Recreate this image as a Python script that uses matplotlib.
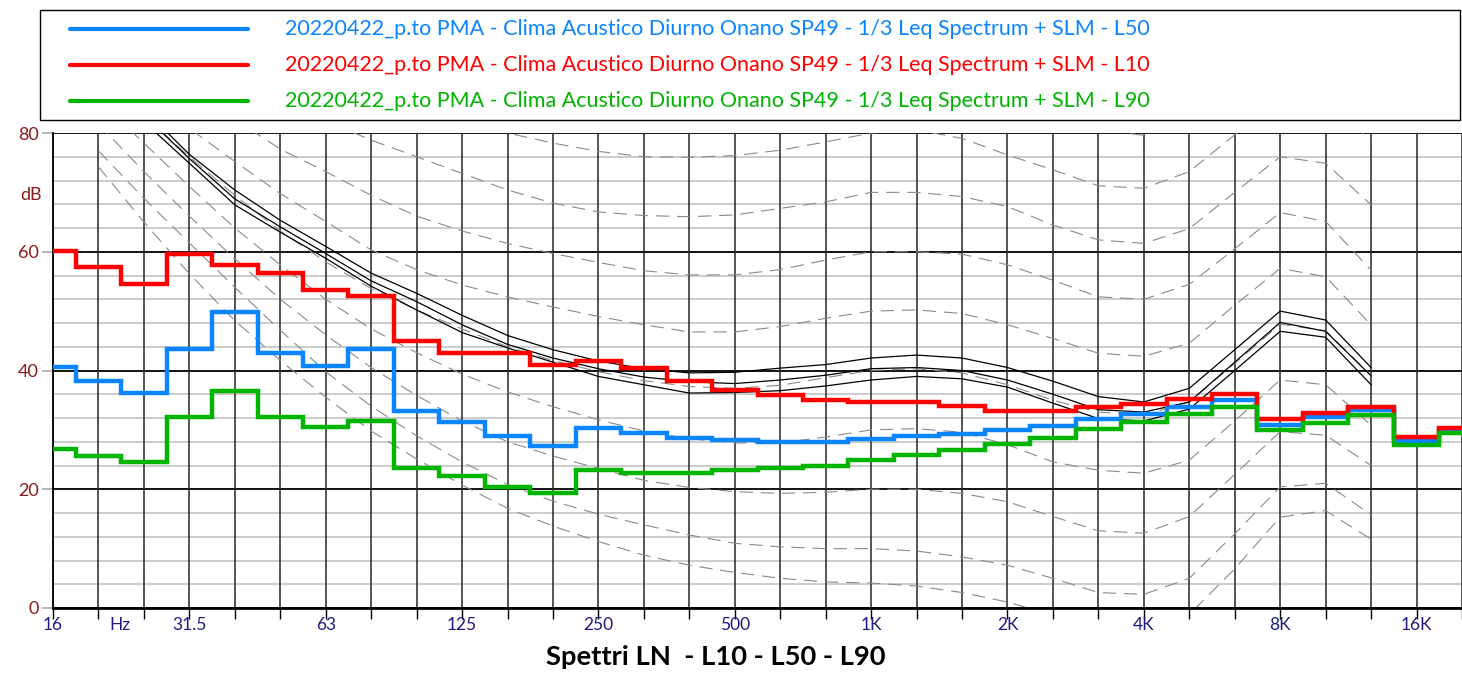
import numpy as np
import matplotlib
matplotlib.use("Agg")
import matplotlib.pyplot as plt
from matplotlib.lines import Line2D
from matplotlib.patches import Rectangle

plt.rcParams['font.family'] = ['Lato', 'DejaVu Sans']

# third octave bands on the x axis (16 Hz .. 20 kHz)
bands = ["16", "20", "25", "31.5", "40", "50", "63", "80", "100", "125", "160", "200",
         "250", "315", "400", "500", "630", "800", "1000", "1250", "1600", "2000",
         "2500", "3150", "4000", "5000", "6300", "8000", "10000", "12500", "16000", "20000"]

# measured spectra (dB), one value per band
L50 = [40.6, 38.3, 36.2, 43.6, 49.8, 42.9, 40.8, 43.7, 33.2, 31.4, 29.0, 27.3, 30.4, 29.4, 28.7, 28.3,
       28.0, 28.0, 28.4, 29.0, 29.3, 30.0, 30.7, 31.8, 32.7, 33.9, 35.0, 30.9, 32.1, 33.3, 28.2, 30.0]
L10 = [60.1, 57.5, 54.6, 59.7, 57.8, 56.4, 53.6, 52.6, 45.0, 43.0, 42.9, 40.9, 41.6, 40.4, 38.2, 36.8,
       35.8, 35.1, 34.7, 34.7, 34.0, 33.2, 33.2, 33.9, 34.4, 35.2, 36.1, 31.9, 32.8, 33.9, 28.8, 30.4]
L90 = [26.8, 25.6, 24.6, 32.2, 36.6, 32.2, 30.5, 31.5, 23.6, 22.2, 20.3, 19.3, 23.2, 22.8, 22.8, 23.2,
       23.5, 23.9, 24.9, 25.8, 26.6, 27.7, 28.7, 30.1, 31.3, 32.6, 33.9, 29.9, 31.2, 32.5, 27.5, 29.4]

series_labels = ["20220422_p.to PMA - Clima Acustico Diurno Onano SP49 - 1/3 Leq Spectrum + SLM - L50",
                 "20220422_p.to PMA - Clima Acustico Diurno Onano SP49 - 1/3 Leq Spectrum + SLM - L10",
                 "20220422_p.to PMA - Clima Acustico Diurno Onano SP49 - 1/3 Leq Spectrum + SLM - L90"]
series_colors = ["#0a84ff", "#ff0000", "#00b400"]

# equal loudness contours (dashed, grey), 20 Hz .. 12.5 kHz
contour_bands = bands[1:30]
phon_T = [74.3, 65.0, 56.3, 48.4, 41.7, 35.5, 29.8, 25.1, 20.7, 16.8, 13.8, 11.2, 8.9, 7.2, 6.0,
          5.0, 4.4, 4.2, 3.7, 2.6, 1.0, -1.2, -3.6, -3.9, -1.1, 6.6, 15.3, 16.4, 11.6]
phon_10 = [77.0, 69.0, 61.5, 54.0, 46.8, 39.8, 34.0, 29.0, 24.6, 20.8, 18.0, 15.8, 14.0, 12.3, 10.9,
           10.3, 10.0, 10.0, 9.6, 8.6, 7.2, 5.0, 2.6, 2.3, 5.0, 12.5, 20.4, 21.0, 15.7]
phon_20 = [81.5, 73.5, 66.0, 58.8, 52.0, 46.0, 40.5, 35.8, 31.5, 28.0, 25.6, 23.5, 21.5, 20.3, 19.6,
           19.3, 19.5, 20.0, 20.0, 19.3, 17.9, 15.4, 13.0, 12.6, 15.4, 22.5, 29.7, 29.1, 24.0]
phon_30 = [85.5, 78.3, 71.0, 64.0, 57.8, 52.0, 47.0, 43.0, 39.4, 36.4, 33.9, 31.7, 29.8, 28.5, 27.8,
           27.8, 28.8, 30.0, 30.2, 29.6, 27.5, 24.6, 23.2, 22.7, 24.9, 31.5, 38.4, 37.6, 30.8]
phon_40 = [90.0, 83.0, 76.0, 69.5, 63.5, 58.3, 53.8, 50.2, 47.0, 44.0, 41.7, 39.8, 38.3, 37.3, 37.0,
           37.5, 38.8, 40.0, 40.3, 39.6, 37.6, 35.0, 33.0, 32.5, 34.7, 41.2, 47.8, 46.7, 39.2]
phon_50 = [95.0, 88.0, 80.8, 75.2, 69.8, 65.1, 60.3, 57.0, 54.4, 52.4, 50.7, 49.1, 47.7, 46.5, 46.5,
           47.4, 48.8, 50.0, 50.2, 49.6, 47.7, 45.4, 42.9, 42.4, 44.6, 51.0, 57.2, 55.8, 47.7]
phon_60 = [100.0, 94.0, 88.0, 82.3, 77.3, 73.5, 69.5, 66.0, 63.5, 61.4, 59.7, 58.2, 56.8, 56.1, 56.1,
           57.0, 58.6, 60.0, 60.0, 59.6, 57.8, 55.2, 52.4, 52.0, 54.5, 60.5, 66.6, 65.1, 56.9]
phon_70 = [104.0, 99.5, 95.0, 91.0, 87.0, 82.1, 78.8, 76.0, 73.2, 70.4, 68.2, 66.7, 66.1, 65.9, 66.2,
           67.3, 68.4, 70.0, 70.0, 69.3, 67.6, 64.5, 62.0, 61.4, 63.9, 70.0, 76.0, 74.9, 67.9]
phon_80 = [108.0, 104.0, 100.0, 96.5, 93.0, 89.5, 87.0, 84.5, 82.2, 80.0, 78.3, 76.9, 76.0, 75.9, 76.2,
           77.1, 78.5, 80.0, 80.5, 79.1, 76.3, 73.8, 71.1, 70.7, 73.5, 79.7, 85.5, 84.5, 78.9]
phon_90 = [112.0, 108.0, 105.0, 102.0, 99.5, 97.0, 95.0, 93.5, 92.0, 90.5, 89.0, 87.5, 86.5, 86.0, 86.0,
           86.5, 88.0, 90.0, 90.5, 89.0, 86.5, 83.5, 80.6, 79.6, 82.5, 89.0, 95.0, 94.0, 89.0]
contours = [phon_T, phon_10, phon_20, phon_30, phon_40, phon_50, phon_60, phon_70, phon_80, phon_90]

# loudness curves of the three spectra (thin black), 25 Hz .. 12.5 kHz
loud_bands = bands[2:30]
loud_1 = [84.0, 76.4, 70.4, 65.3, 60.9, 56.4, 53.0, 49.3, 45.9, 43.5, 41.6, 40.3, 39.6, 39.7, 40.4,
          41.0, 42.1, 42.6, 42.1, 40.5, 38.2, 35.6, 34.7, 37.0, 43.5, 50.0, 48.5, 40.5]
loud_2 = [83.0, 75.7, 68.9, 64.2, 59.7, 55.1, 51.6, 47.7, 44.4, 42.1, 40.3, 38.9, 38.1, 37.8, 38.4,
          39.2, 40.3, 40.5, 40.0, 38.4, 36.0, 33.4, 33.0, 34.7, 41.4, 48.1, 46.6, 39.1]
loud_3 = [81.9, 74.9, 67.9, 63.3, 58.9, 54.2, 50.2, 46.4, 43.8, 41.4, 39.0, 37.6, 36.2, 36.3, 36.6,
          37.4, 38.4, 39.0, 38.6, 37.2, 34.5, 31.9, 31.5, 33.5, 40.0, 46.6, 45.6, 37.6]

# x tick labels
tick_bands = ["16", "31.5", "63", "125", "250", "500", "1000", "2000", "4000", "8000", "16000"]
tick_text = ["16", "31.5", "63", "125", "250", "500", "1K", "2K", "4K", "8K", "16K"]

pos = {b: i for i, b in enumerate(bands)}

fig = plt.figure(figsize=(14.62, 6.75), dpi=100)
ax = fig.add_axes([53 / 1462, 67 / 675, 1409 / 1462, 475 / 675])
ax.set_xlim(0, len(bands) - 1)
ax.set_ylim(0, 80)

# grid
for y in range(0, 81, 4):
    if y % 20 == 0:
        ax.axhline(y, color="black", lw=1.3, zorder=1)
    else:
        ax.axhline(y, color="#cccccc", lw=1.4, zorder=0.5)
for i in range(len(bands)):
    ax.axvline(i, color="#262626", lw=1.1, zorder=1)

# dashed contours
for c in contours:
    ax.plot([pos[b] for b in contour_bands], c, color="#8a8a8a", lw=0.8,
            linestyle=(0, (12, 7)), zorder=2)

for c in (loud_1, loud_2, loud_3):
    ax.plot([pos[b] for b in loud_bands], c, color="black", lw=0.9, zorder=3)

# step spectra
edges = np.arange(len(bands) + 1) - 0.5
for vals, col in zip((L50, L10, L90), series_colors):
    st = ax.stairs(vals, edges, baseline=None, color=col, lw=3.2, zorder=4)
    st.set_joinstyle("miter")

# axes cosmetics
for s in ("top", "right"):
    ax.spines[s].set_visible(False)
ax.spines["bottom"].set_linewidth(2)
ax.spines["left"].set_linewidth(1.3)

ax.set_xticks(range(len(bands)))
ax.set_xticklabels([])
ax.tick_params(axis="x", length=8, width=1, color="black", direction="out")
ax.set_yticks([0, 20, 40, 60, 80])
ax.set_yticklabels(["0", "20", "40", "60", "80"])
ax.tick_params(axis="y", length=8, width=1.3, color="#b0b0b0", pad=2,
               labelsize=13, labelcolor="#8b1a1a")

for b, t in zip(tick_bands, tick_text):
    ax.text(pos[b], -1.5, t, ha="center", va="top", fontsize=12.5, color="#1c1c80")
ax.text(1.47, -1.5, "Hz", ha="center", va="top", fontsize=12.5, color="#1c1c80")
ax.text(-0.24, 69.5, "dB", ha="right", va="center", fontsize=13, color="#8b1a1a")

# legend box at the top
fig.add_artist(Rectangle((40 / 1462, 1 - 120 / 675), 1420 / 1462, 110 / 675,
                         transform=fig.transFigure, fill=False, edgecolor="black", lw=1))
for k, (lab, col) in enumerate(zip(series_labels, series_colors)):
    yy = 1 - (29 + 36 * k) / 675
    fig.add_artist(Line2D([70 / 1462, 248 / 1462], [yy, yy], transform=fig.transFigure,
                          color=col, lw=3, solid_capstyle="round"))
    fig.text(285 / 1462, yy, lab, color=col, fontsize=15.5, va="center", ha="left")

fig.text(716 / 1462, 18 / 675, "Spettri LN  - L10 - L50 - L90", ha="center", va="center",
         fontsize=19.7, fontweight="bold")

fig.savefig("out.png", dpi=100)
